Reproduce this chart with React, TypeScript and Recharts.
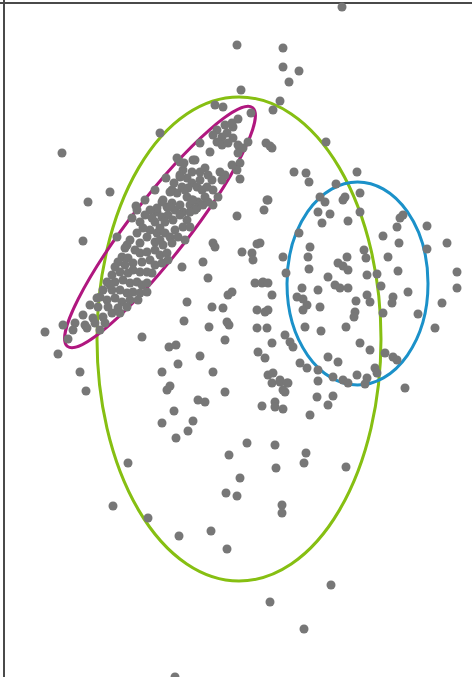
import React from "react";
import {
  ScatterChart,
  Scatter,
  XAxis,
  YAxis,
  ReferenceArea,
  ReferenceLine,
} from "recharts";

const W = 480;
const H = 690;

// loose points spread over the whole field
const spreadGroup: [number, number][] = [
  [342, 7], [237, 45], [283, 48], [283, 67], [299, 71], [289, 82], [241, 90], [280, 101],
  [273, 110], [326, 142], [266, 143], [272, 148], [62, 153], [160, 133], [110, 192], [88, 202],
  [83, 241], [270, 146], [267, 200], [237, 216], [213, 243], [215, 247], [257, 244], [242, 252],
  [252, 253], [253, 260], [203, 262], [182, 267], [208, 278], [232, 292], [228, 295], [255, 283],
  [262, 283], [187, 302], [212, 307], [223, 308], [257, 310], [268, 310], [184, 321], [209, 327],
  [227, 322], [229, 325], [257, 328], [45, 332], [142, 337], [169, 347], [176, 345], [225, 340],
  [58, 354], [80, 372], [86, 391], [200, 356], [178, 364], [162, 372], [213, 372], [167, 390],
  [170, 386], [225, 392], [198, 400], [205, 402], [174, 411], [193, 421], [162, 423], [188, 431],
  [176, 438], [229, 455], [128, 463], [226, 493], [237, 496], [240, 478], [113, 506], [148, 518],
  [179, 536], [211, 531], [227, 549], [175, 677], [258, 352],
  [268, 375], [272, 383], [280, 382], [288, 383], [285, 392], [262, 406], [275, 402], [275, 407],
  [283, 409], [310, 415], [317, 397], [333, 396], [328, 405], [247, 443], [275, 445], [306, 453],
  [304, 463], [276, 468], [346, 467], [282, 505], [282, 513], [331, 585], [270, 602], [304, 629],
  [268, 200], [264, 210], [299, 233], [260, 243], [283, 257], [286, 273], [263, 282], [268, 283],
  [272, 295], [265, 312], [267, 328], [285, 335], [290, 342], [293, 347], [272, 343], [265, 358],
  [300, 363], [307, 368], [273, 373], [280, 380], [287, 383], [283, 390], [294, 172], [306, 173],
  [309, 182], [318, 370], [318, 381],
];

// right-hand group
const rightGroup: [number, number][] = [
  [357, 172], [336, 184], [360, 193], [320, 197], [325, 202], [343, 200], [318, 212], [330, 214],
  [322, 223], [348, 221], [360, 212], [400, 218], [397, 227], [403, 215], [427, 226], [383, 236],
  [447, 243], [399, 243], [310, 247], [364, 250], [366, 258], [427, 249], [308, 257], [388, 257],
  [347, 257], [338, 263], [343, 266], [348, 270], [309, 269], [398, 271], [457, 272], [367, 275],
  [377, 274], [328, 277], [302, 288], [335, 285], [340, 288], [348, 288], [381, 286], [457, 288],
  [408, 292], [318, 290], [297, 297], [303, 299], [307, 305], [367, 295], [370, 302], [393, 297],
  [392, 303], [320, 307], [356, 301], [442, 303], [303, 310], [355, 312], [354, 317], [383, 313],
  [418, 314], [346, 327], [305, 327], [321, 331], [435, 328], [360, 343], [370, 350], [328, 357],
  [338, 362], [385, 353], [393, 357], [397, 360], [375, 368], [377, 373], [333, 377], [343, 380],
  [357, 375], [367, 378], [405, 388], [365, 384], [348, 383], [345, 197],
];

// tight diagonal group
const diagonalGroup: [number, number][] = [
  [215, 105], [223, 107], [251, 113], [238, 119], [233, 127], [233, 138], [248, 142], [238, 145],
  [240, 163], [237, 170], [240, 179], [225, 125], [232, 123], [217, 130], [213, 135], [222, 137],
  [227, 133], [217, 142], [222, 145], [228, 143], [200, 143], [238, 153], [243, 148], [180, 162],
  [177, 158], [195, 160], [200, 172], [205, 168], [208, 175], [212, 180], [220, 172], [225, 175],
  [222, 180], [232, 165], [183, 170], [180, 175], [187, 178], [192, 183], [197, 187], [202, 190],
  [207, 187], [213, 190], [218, 197], [213, 205], [172, 190], [177, 193], [182, 187], [187, 197],
  [193, 200], [198, 202], [190, 205], [197, 208], [203, 205], [208, 202], [205, 197], [162, 202],
  [167, 207], [172, 203], [175, 210], [180, 205], [183, 212], [157, 212], [162, 217], [168, 215],
  [173, 220], [165, 222], [155, 222], [187, 220], [183, 227], [190, 227], [180, 215], [175, 230],
  [150, 230], [157, 233], [160, 228], [165, 233], [170, 237], [178, 237], [185, 240], [147, 237],
  [155, 242], [160, 240], [163, 245], [172, 243], [137, 233], [130, 240], [140, 243], [135, 250],
  [140, 253], [147, 252], [155, 250], [160, 255], [167, 253], [168, 260], [122, 257], [128, 258],
  [125, 265], [133, 263], [142, 262], [150, 260], [155, 265], [162, 263], [115, 267], [120, 272],
  [128, 273], [133, 270], [140, 272], [147, 272], [152, 273], [112, 275], [107, 282], [115, 282],
  [123, 280], [130, 283], [137, 282], [142, 285], [147, 283], [103, 290], [112, 290], [120, 290],
  [127, 293], [133, 292], [140, 293], [147, 292], [97, 298], [107, 300], [115, 298], [122, 302],
  [130, 300], [138, 300], [90, 305], [98, 307], [108, 307], [118, 308], [127, 307], [83, 315],
  [93, 318], [103, 317], [112, 313], [120, 313], [75, 323], [85, 325], [95, 323], [105, 323],
  [73, 330], [87, 328], [100, 330], [68, 339], [63, 325], [184, 163], [180, 177], [185, 190],
  [192, 172], [193, 160], [170, 192], [163, 200], [157, 208], [170, 207], [195, 210], [192, 200],
  [136, 206], [137, 210], [132, 218], [140, 222], [117, 237], [166, 178], [174, 183], [155, 190],
  [145, 200], [150, 210], [145, 215], [152, 218], [125, 248], [118, 262], [110, 285], [100, 297],
  [190, 212], [200, 180], [188, 188], [143, 228], [127, 245], [210, 152],
];

// fitted ellipses: centre, radii, rotation (deg)
const fitNames = ["all", "right", "diagonal"];
const fitCx = [239, 357.5, 160];
const fitCy = [339, 283.5, 227];
const fitRx = [142, 70.5, 151];
const fitRy = [242, 101.5, 29];
const fitAngle = [0, 0, -52.2];

const fitColors: Record<string, string> = {
  all: "#86bf12",
  right: "#1b91c9",
  diagonal: "#b0177f",
};

const points = [...spreadGroup, ...rightGroup, ...diagonalGroup].map(([x, y]) => ({ x, y }));

function EllipseShape(props: any) {
  const { x, y, width, height, angle, color } = props;
  const w = Math.abs(width);
  const h = Math.abs(height);
  const cx = Math.min(x, x + width) + w / 2;
  const cy = Math.min(y, y + height) + h / 2;
  return (
    <ellipse
      cx={cx}
      cy={cy}
      rx={w / 2}
      ry={h / 2}
      fill="none"
      stroke={color}
      strokeWidth={3}
      transform={`rotate(${angle} ${cx} ${cy})`}
    />
  );
}

export default function App() {
  return (
    <div style={{ position: "fixed", left: 0, top: 0, width: 472, height: 677, overflow: "hidden", background: "#fff" }}>
      <ScatterChart width={W} height={H} margin={{ top: 0, right: 0, bottom: 0, left: 0 }}>
        <XAxis type="number" dataKey="x" domain={[0, W]} hide />
        <YAxis type="number" dataKey="y" domain={[0, H]} reversed hide />
        <ReferenceLine x={4} stroke="#4a4a4a" strokeWidth={2} ifOverflow="visible" />
        <ReferenceLine y={3} stroke="#4a4a4a" strokeWidth={2} ifOverflow="visible" />
        <Scatter data={points} fill="#777777" shape="circle" isAnimationActive={false} />
        {fitNames.map((name, i) => (
          <ReferenceArea
            key={name}
            x1={fitCx[i] - fitRx[i]}
            x2={fitCx[i] + fitRx[i]}
            y1={fitCy[i] - fitRy[i]}
            y2={fitCy[i] + fitRy[i]}
            ifOverflow="visible"
            shape={(p: any) => <EllipseShape {...p} angle={fitAngle[i]} color={fitColors[name]} />}
          />
        ))}
      </ScatterChart>
    </div>
  );
}
